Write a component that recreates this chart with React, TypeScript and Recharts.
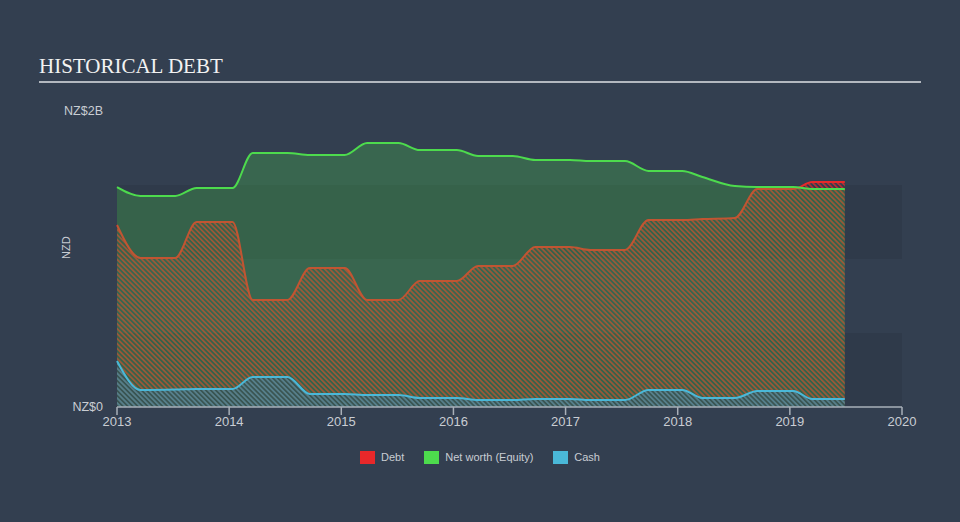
import React from 'react';
import {
  Area,
  ComposedChart,
  ReferenceArea,
  XAxis,
  YAxis,
} from 'recharts';

// Historical debt chart: debt (red hatch), net worth (green fill), cash (blue hatch).
// Values in NZ$ billions.

const years = [
  2013.0, 2013.21, 2013.52, 2013.71, 2014.03, 2014.21, 2014.52, 2014.72, 2015.03,
  2015.23, 2015.51, 2015.7, 2016.03, 2016.22, 2016.53, 2016.73, 2017.04, 2017.22,
  2017.53, 2017.74, 2018.04, 2018.22, 2018.51, 2018.71, 2019.03, 2019.2, 2019.49,
];

const debt = [
  1.23, 1.007, 1.007, 1.25, 1.25, 0.723, 0.723, 0.939, 0.939, 0.723, 0.723, 0.851,
  0.851, 0.953, 0.953, 1.081, 1.081, 1.061, 1.061, 1.264, 1.264, 1.27, 1.277, 1.473,
  1.473, 1.52, 1.52,
];

const equity = [
  1.486, 1.426, 1.426, 1.48, 1.48, 1.716, 1.716, 1.703, 1.703, 1.784, 1.784, 1.736,
  1.736, 1.696, 1.696, 1.669, 1.669, 1.662, 1.662, 1.595, 1.595, 1.554, 1.493, 1.486,
  1.486, 1.473, 1.473,
];

const cash = [
  0.311, 0.115, 0.118, 0.122, 0.122, 0.203, 0.203, 0.088, 0.088, 0.081, 0.081, 0.061,
  0.061, 0.047, 0.047, 0.054, 0.054, 0.047, 0.047, 0.115, 0.115, 0.061, 0.061, 0.108,
  0.108, 0.054, 0.054,
];

const xTicks = [2013, 2014, 2015, 2016, 2017, 2018, 2019, 2020];
const yTicks = [0, 2];
const bands = [
  [0, 0.5],
  [1, 1.5],
];

const series = [
  { key: 'debt', name: 'Debt', color: '#e8282a' },
  { key: 'equity', name: 'Net worth (Equity)', color: '#4ddb4d' },
  { key: 'cash', name: 'Cash', color: '#4ab8d8' },
];

const datos = years.map((t, i) => ({
  t,
  debt: debt[i],
  equity: equity[i],
  cash: cash[i],
}));

const fondo = '#333f50';
const banda = '#2f3a4a';
const tinta = '#c9cdd3';
const fuente = '"Liberation Sans", Arial, sans-serif';

export default function App() {
  return (
    <div
      style={{
        position: 'relative',
        width: 960,
        height: 522,
        background: fondo,
        overflow: 'hidden',
        fontFamily: fuente,
      }}
    >
      <style>{'body{margin:0}'}</style>
      <div
        style={{
          position: 'absolute',
          left: 39,
          top: 56,
          fontFamily: '"Liberation Serif", "Times New Roman", serif',
          fontSize: 21,
          lineHeight: '21px',
          color: '#f2f2f2',
          whiteSpace: 'nowrap',
        }}
      >
        HISTORICAL DEBT
      </div>
      <div
        style={{
          position: 'absolute',
          left: 39,
          top: 81,
          width: 882,
          height: 2,
          background: '#b3b8bf',
        }}
      />
      <div style={{ position: 'absolute', left: 0, top: 0 }}>
        <ComposedChart
          width={960}
          height={522}
          data={datos}
          margin={{ top: 111, right: 58, bottom: 85, left: 0 }}
        >
          <defs>
            <pattern
              id="hatchDebt"
              width="3.5"
              height="3.5"
              patternUnits="userSpaceOnUse"
              patternTransform="rotate(-45)"
            >
              <rect width="1.75" height="3.5" fill="#e8282a" fillOpacity={0.7} />
            </pattern>
            <pattern
              id="hatchCash"
              width="3.5"
              height="3.5"
              patternUnits="userSpaceOnUse"
              patternTransform="rotate(-45)"
            >
              <rect width="3.5" height="3.5" fill="#3b4d58" fillOpacity={0.6} />
              <rect width="1.75" height="3.5" fill="#4ab8d8" fillOpacity={0.45} />
            </pattern>
          </defs>
          {bands.map(([a, b]) => (
            <ReferenceArea
              key={a}
              x1={2013}
              x2={2020}
              y1={a}
              y2={b}
              fill={banda}
              fillOpacity={1}
              strokeWidth={0}
            />
          ))}
          <XAxis
            dataKey="t"
            type="number"
            domain={[2013, 2020]}
            ticks={xTicks}
            height={30}
            tickSize={8}
            tickMargin={2}
            axisLine={{ stroke: '#a9b0b8', strokeWidth: 1.5 }}
            tickLine={{ stroke: '#a9b0b8', strokeWidth: 1.5 }}
            tick={{ fill: tinta, fontSize: 13, fontFamily: fuente }}
          />
          <YAxis
            type="number"
            domain={[0, 2]}
            ticks={yTicks}
            width={117}
            axisLine={false}
            tickLine={false}
            tickSize={0}
            tickMargin={14}
            tick={{ fill: tinta, fontSize: 12.5, fontFamily: fuente }}
            tickFormatter={(v: number) => (v === 0 ? 'NZ$0' : `NZ$${v}B`)}
            label={{
              value: 'NZD',
              angle: -90,
              position: 'insideLeft',
              offset: 66,
              fill: tinta,
              fontSize: 11,
              fontFamily: fuente,
            }}
          />
          <Area
            type="monotone"
            dataKey="debt"
            name="Debt"
            stroke={series[0].color}
            strokeWidth={2}
            fill="url(#hatchDebt)"
            fillOpacity={1}
            dot={false}
            activeDot={false}
            isAnimationActive={false}
          />
          <Area
            type="monotone"
            dataKey="equity"
            name="Net worth (Equity)"
            stroke={series[1].color}
            strokeWidth={2}
            fill={series[1].color}
            fillOpacity={0.25}
            dot={false}
            activeDot={false}
            isAnimationActive={false}
          />
          <Area
            type="monotone"
            dataKey="cash"
            name="Cash"
            stroke={series[2].color}
            strokeWidth={2}
            fill="url(#hatchCash)"
            fillOpacity={1}
            dot={false}
            activeDot={false}
            isAnimationActive={false}
          />
        </ComposedChart>
      </div>
      <div
        style={{
          position: 'absolute',
          left: 0,
          top: 450,
          width: 960,
          display: 'flex',
          justifyContent: 'center',
          gap: 20,
          fontSize: 11,
          color: tinta,
          lineHeight: '14px',
        }}
      >
        {series.map((s) => (
          <div key={s.key} style={{ display: 'flex', alignItems: 'center', gap: 6 }}>
            <span style={{ width: 15, height: 13, background: s.color, display: 'inline-block' }} />
            <span>{s.name}</span>
          </div>
        ))}
      </div>
    </div>
  );
}
